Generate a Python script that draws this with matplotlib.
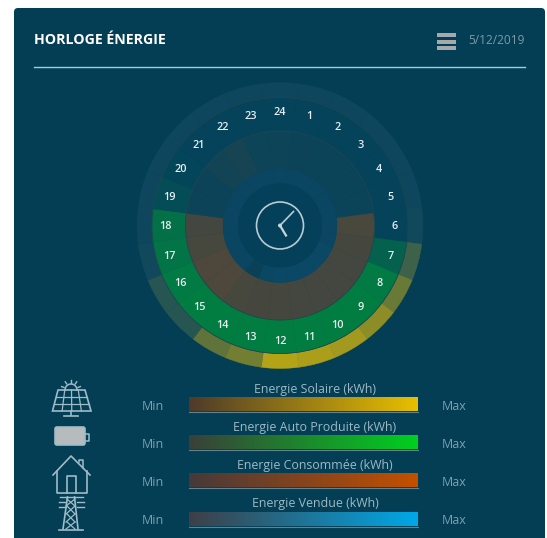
import numpy as np
import matplotlib
matplotlib.use("Agg")
import matplotlib.pyplot as plt
from matplotlib.patches import Wedge, Circle, FancyBboxPatch, Polygon, Rectangle
from matplotlib.colors import to_rgb, LinearSegmentedColormap

plt.rcParams['font.family'] = ['Open Sans', 'DejaVu Sans']

# hour labels, clockwise from the top
hours = [24, 1, 2, 3, 4, 5, 6, 7, 8, 9, 10, 11, 12, 13, 14, 15, 16, 17, 18, 19, 20, 21, 22, 23]

# intensity 0-1 per hour, same order as hours
solar = [0, 0, 0, 0, 0, 0, 0.02, 0.22, 0.42, 0.58, 0.68, 0.72, 0.76, 0.46, 0.38, 0.12, 0.12, 0.02, 0, 0, 0, 0, 0, 0]
auto = [0, 0, 0, 0, 0, 0, 0, 0.22, 0.40, 0.42, 0.42, 0.42, 0.42, 0.42, 0.42, 0.42, 0.40, 0.36, 0.33, 0.07, 0.02, 0, 0, 0]
conso = [0.04, 0.03, 0.02, 0.02, 0.02, 0.02, 0.36, 0.34, 0.33, 0.33, 0.33, 0.33, 0.34, 0.34, 0.35, 0.38, 0.38, 0.35, 0.33, 0.03, 0.03, 0.06, 0.08, 0.04]
vendue = [0, 0, 0, 0, 0, 0, 0, 0, 0.02, 0.02, 0.02, 0.02, 0.02, 0.01, -0.07, 0, 0, 0, 0, 0, 0, 0, 0, 0]

legend_names = ["Energie Solaire (kWh)", "Energie Auto Produite (kWh)", "Energie Consommée (kWh)", "Energie Vendue (kWh)"]
legend_colors = ["#e8c000", "#00d020", "#c45000", "#00a8e8"]
legend_starts = ["#4d3a2a", "#3a3f3a", "#46393a", "#3e3f46"]

title = "HORLOGE ÉNERGIE"
date_text = "5/12/2019"

bg = "#033e55"
cx, cy = 280, 225.5


def mix(a, b, t):
    a, b = np.array(to_rgb(a)), np.array(to_rgb(b))
    return tuple(np.clip(a + (b - a) * t, 0, 1))


def ring(ax, values, r_in, r_out, base, full):
    for i, v in enumerate(values):
        mid = 90 - 15 * i
        ax.add_patch(Wedge((cx, cy), r_out, -mid - 7.5, -mid + 7.5, width=r_out - r_in,
                           fc=mix(base, full, v), ec=mix(base, full, v), lw=0.3))


fig = plt.figure(figsize=(5.47, 5.38), dpi=100, facecolor="white")
ax = fig.add_axes([0, 0, 1, 1])
ax.set_xlim(0, 547)
ax.set_ylim(538, 0)
ax.axis("off")

# card
ax.add_patch(FancyBboxPatch((18, 12), 523, 540, boxstyle="round,pad=4", fc=bg, ec="none"))

ax.text(34, 40.5, title, color="white", fontsize=10.2, fontweight="bold", va="center", ha="left")
ax.text(525, 40.5, date_text, color="#7f9aa6", fontsize=8.6, va="center", ha="right")
ax.plot([34, 525], [67, 67], color="#9fd0d8", lw=1)

# menu icon
for y in (33, 39.5, 46):
    ax.add_patch(Rectangle((437, y), 19, 4.4, fc="#a6a9ab", ec="none"))

# rings
ring(ax, solar, 128, 143, "#0d465d", "#e8c000")
ring(ax, auto, 94.5, 128, "#04435a", "#00cc22")
ring(ax, conso, 57, 94.5, "#07435a", "#be5008")
ring(ax, vendue, 42, 57, "#0a4662", "#00a0e0")
for r in (128, 94.5):
    ax.add_patch(Circle((cx, cy), r, fc="none", ec="#1f4750", lw=0.6))
ax.add_patch(Circle((cx, cy), 42, fc="#04405a", ec="none"))

# clock
ax.add_patch(Circle((cx, cy), 23.5, fc="none", ec="#b9ccd2", lw=1.2))
ax.plot([cx, cx + 13.5], [cy, cy - 14], color="#b9ccd2", lw=1.2)
ax.plot([cx, cx + 6], [cy, cy + 10], color="#c9d6da", lw=1.6)
ax.add_patch(Circle((cx, cy), 2, fc="#c9d6da", ec="none"))

# hour labels
for i, h in enumerate(hours):
    a = np.radians(15 * i)
    ax.text(cx + 114.5 * np.sin(a), cy + 1.2 - 114.5 * np.cos(a), str(h), color="#e6eef0", fontsize=7.8,
            fontweight="semibold", ha="center", va="center")

# legend bars
bar_tops = [397, 435, 473.5, 512]
label_y = [389, 427, 465, 503]
for name, col, start, top, ly in zip(legend_names, legend_colors, legend_starts, bar_tops, label_y):
    cmap = LinearSegmentedColormap.from_list("g", [start, col])
    ax.imshow(np.linspace(0, 1, 256).reshape(1, -1), cmap=cmap, aspect="auto",
              extent=(189, 418, top + 14, top), zorder=2)
    ax.plot([189, 418], [top + 14.5, top + 14.5], color="#5f8390", lw=0.8, zorder=2)
    ax.text(315, ly, name, color="#9db9c3", fontsize=8.9, ha="center", va="center")
    ax.text(152.5, top + 9, "Min", color="#7fa0ad", fontsize=9, ha="center", va="center")
    ax.text(454, top + 9, "Max", color="#7fa0ad", fontsize=9, ha="center", va="center")
ax.set_xlim(0, 547)
ax.set_ylim(538, 0)

icon = "#9fbcc7"
# solar panel
ax.add_patch(Polygon([(58, 390), (85, 390), (91, 411), (52.5, 411)], fc="none", ec=icon, lw=1.2))
for t in (1 / 3, 2 / 3):
    ax.plot([58 - 5.5 * t, 85 + 6 * t], [390 + 21 * t] * 2, color=icon, lw=0.9)
for t in (0.25, 0.5, 0.75):
    ax.plot([58 + 27 * t, 52.5 + 38.5 * t], [390, 411], color=icon, lw=0.9)
ax.plot([71, 71], [411, 415], color=icon, lw=1.2)
ax.plot([64, 78], [415.5, 415.5], color=icon, lw=1.2)
sun = np.linspace(0, np.pi, 20)
ax.plot(71 + 6 * np.cos(sun), 390 - 6 * np.sin(sun), color=icon, lw=1.1)
for a in np.radians([20, 55, 90, 125, 160]):
    ax.plot([71 + 7.5 * np.cos(a), 71 + 10 * np.cos(a)], [390 - 7.5 * np.sin(a), 390 - 10 * np.sin(a)], color=icon, lw=1)
# battery
ax.add_patch(FancyBboxPatch((57, 429), 26, 14, boxstyle="round,pad=2", fc="#b6bbbe", ec=icon, lw=1.2))
ax.plot([85, 88.5, 88.5, 85], [434, 434, 441, 441], color=icon, lw=1.1)
# house
ax.plot([53, 71, 90], [475, 456, 475], color=icon, lw=1.2)
ax.plot([57, 57, 86.5, 86.5], [471, 492.5, 492.5, 471], color=icon, lw=1.2)
ax.plot([66.5, 66.5, 76, 76], [492.5, 476, 476, 492.5], color=icon, lw=1.2)
ax.plot([79, 79, 83, 83], [462, 460, 460, 468], color=icon, lw=1.1)
# tower
ax.plot([63, 67.5], [529, 497], color=icon, lw=1.2)
ax.plot([78, 74.5], [529, 497], color=icon, lw=1.2)
ax.plot([58.5, 83], [529.5, 529.5], color=icon, lw=1.2)
for y0, y1 in ((499, 506), (506, 514), (514, 522), (522, 529)):
    ax.plot([67, 75], [y0, y1], color=icon, lw=0.9)
    ax.plot([75, 66], [y0, y1], color=icon, lw=0.9)
ax.plot([60, 83], [497, 497], color=icon, lw=1)
for y in (502, 506.5):
    ax.plot([59, 65], [y, y], color=icon, lw=1)
    ax.plot([77, 84], [y, y], color=icon, lw=1)

fig.savefig("out.png", dpi=100)
